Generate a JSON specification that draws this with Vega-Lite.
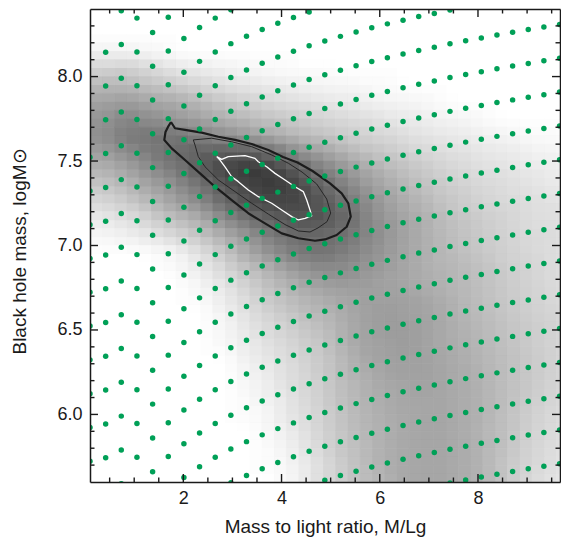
{
"$schema":"https://vega.github.io/schema/vega-lite/v6.json",
"width":470,"height":473,
"autosize":{"type":"none"},
"padding":{"left":90,"top":9,"right":1,"bottom":57},
"background":"white",
"config":{"view":{"stroke":null},"font":"Liberation Sans",
"axis":{"labelFont":"Liberation Sans","labelFontSize":18,"labelColor":"#1a1a1a","titleFont":"Liberation Sans","titleFontSize":19,"titleFontWeight":"normal","titleColor":"#1a1a1a","domainColor":"#1a1a1a","domainWidth":1.5,"grid":false}},
"datasets":{
"xt":[{"v":0.5,"k":"min"},{"v":1,"k":"min"},{"v":1.5,"k":"min"},{"v":2,"k":"maj"},{"v":2.5,"k":"min"},{"v":3,"k":"min"},{"v":3.5,"k":"min"},{"v":4,"k":"maj"},{"v":4.5,"k":"min"},{"v":5,"k":"min"},{"v":5.5,"k":"min"},{"v":6,"k":"maj"},{"v":6.5,"k":"min"},{"v":7,"k":"min"},{"v":7.5,"k":"min"},{"v":8,"k":"maj"},{"v":8.5,"k":"min"},{"v":9,"k":"min"},{"v":9.5,"k":"min"}],
"yt":[{"v":5.7,"k":"min"},{"v":5.8,"k":"min"},{"v":5.9,"k":"min"},{"v":6.0,"k":"maj"},{"v":6.1,"k":"min"},{"v":6.2,"k":"min"},{"v":6.3,"k":"min"},{"v":6.4,"k":"min"},{"v":6.5,"k":"maj"},{"v":6.6,"k":"min"},{"v":6.7,"k":"min"},{"v":6.8,"k":"min"},{"v":6.9,"k":"min"},{"v":7.0,"k":"maj"},{"v":7.1,"k":"min"},{"v":7.2,"k":"min"},{"v":7.3,"k":"min"},{"v":7.4,"k":"min"},{"v":7.5,"k":"maj"},{"v":7.6,"k":"min"},{"v":7.7,"k":"min"},{"v":7.8,"k":"min"},{"v":7.9,"k":"min"},{"v":8.0,"k":"maj"},{"v":8.1,"k":"min"},{"v":8.2,"k":"min"},{"v":8.3,"k":"min"}],
"xs":[{"key":"c0","x0":0.1,"x1":0.6},{"key":"c1","x0":0.6,"x1":1.1},{"key":"c2","x0":1.1,"x1":1.6},{"key":"c3","x0":1.6,"x1":2.1},{"key":"c4","x0":2.1,"x1":2.6},{"key":"c5","x0":2.6,"x1":3.1},{"key":"c6","x0":3.1,"x1":3.6},{"key":"c7","x0":3.6,"x1":4.1},{"key":"c8","x0":4.1,"x1":4.6},{"key":"c9","x0":4.6,"x1":5.1},{"key":"c10","x0":5.1,"x1":5.6},{"key":"c11","x0":5.6,"x1":6.1},{"key":"c12","x0":6.1,"x1":6.6},{"key":"c13","x0":6.6,"x1":7.1},{"key":"c14","x0":7.1,"x1":7.6},{"key":"c15","x0":7.6,"x1":8.1},{"key":"c16","x0":8.1,"x1":8.6},{"key":"c17","x0":8.6,"x1":9.1},{"key":"c18","x0":9.1,"x1":9.6},{"key":"c19","x0":9.6,"x1":10.1}],
"xb":[{"key":"b0","x0":-0.15,"x1":0.35},{"key":"b1","x0":0.35,"x1":0.85},{"key":"b2","x0":0.85,"x1":1.35},{"key":"b3","x0":1.35,"x1":1.85},{"key":"b4","x0":1.85,"x1":2.35},{"key":"b5","x0":2.35,"x1":2.85},{"key":"b6","x0":2.85,"x1":3.35},{"key":"b7","x0":3.35,"x1":3.85},{"key":"b8","x0":3.85,"x1":4.35},{"key":"b9","x0":4.35,"x1":4.85},{"key":"b10","x0":4.85,"x1":5.35},{"key":"b11","x0":5.35,"x1":5.85},{"key":"b12","x0":5.85,"x1":6.35},{"key":"b13","x0":6.35,"x1":6.85},{"key":"b14","x0":6.85,"x1":7.35},{"key":"b15","x0":7.35,"x1":7.85},{"key":"b16","x0":7.85,"x1":8.35},{"key":"b17","x0":8.35,"x1":8.85},{"key":"b18","x0":8.85,"x1":9.35},{"key":"b19","x0":9.35,"x1":9.85}],
"bg":[
{"y0":8.3,"y1":8.4,"c0":100,"c1":100,"c2":100,"c3":100,"c4":100,"c5":100,"c6":100,"c7":100,"c8":100,"c9":100,"c10":100,"c11":100,"c12":100,"c13":100,"c14":100,"c15":100,"c16":100,"c17":100,"c18":100,"c19":100},
{"y0":8.2,"y1":8.3,"c0":100,"c1":100,"c2":100,"c3":100,"c4":100,"c5":100,"c6":100,"c7":100,"c8":100,"c9":100,"c10":100,"c11":100,"c12":100,"c13":100,"c14":100,"c15":100,"c16":100,"c17":100,"c18":100,"c19":100},
{"y0":8.1,"y1":8.2,"c0":95,"c1":95,"c2":97,"c3":99,"c4":100,"c5":100,"c6":100,"c7":100,"c8":100,"c9":100,"c10":100,"c11":100,"c12":100,"c13":100,"c14":100,"c15":100,"c16":100,"c17":100,"c18":100,"c19":100},
{"y0":8.0,"y1":8.1,"c0":83,"c1":82,"c2":86,"c3":90,"c4":93,"c5":95,"c6":97,"c7":98,"c8":99,"c9":99,"c10":100,"c11":100,"c12":100,"c13":100,"c14":100,"c15":100,"c16":100,"c17":100,"c18":100,"c19":100},
{"y0":7.9,"y1":8.0,"c0":72,"c1":72,"c2":76,"c3":80,"c4":84,"c5":88,"c6":90,"c7":93,"c8":94,"c9":96,"c10":97,"c11":98,"c12":99,"c13":100,"c14":100,"c15":100,"c16":100,"c17":100,"c18":100,"c19":100},
{"y0":7.8,"y1":7.9,"c0":64,"c1":61,"c2":65,"c3":68,"c4":72,"c5":78,"c6":82,"c7":86,"c8":88,"c9":90,"c10":92,"c11":94,"c12":96,"c13":97,"c14":99,"c15":100,"c16":100,"c17":100,"c18":100,"c19":100},
{"y0":7.7,"y1":7.8,"c0":58,"c1":52,"c2":56,"c3":60,"c4":64,"c5":69,"c6":73,"c7":77,"c8":80,"c9":83,"c10":86,"c11":88,"c12":91,"c13":93,"c14":95,"c15":97,"c16":99,"c17":100,"c18":100,"c19":100},
{"y0":7.6,"y1":7.7,"c0":56,"c1":48,"c2":46,"c3":46,"c4":50,"c5":56,"c6":61,"c7":67,"c8":72,"c9":76,"c10":80,"c11":83,"c12":86,"c13":89,"c14":91,"c15":93,"c16":95,"c17":97,"c18":98,"c19":99},
{"y0":7.5,"y1":7.6,"c0":62,"c1":55,"c2":48,"c3":42,"c4":38,"c5":36,"c6":36,"c7":45,"c8":56,"c9":64,"c10":71,"c11":76,"c12":80,"c13":84,"c14":87,"c15":89,"c16":91,"c17":93,"c18":95,"c19":96},
{"y0":7.4,"y1":7.5,"c0":70,"c1":64,"c2":55,"c3":47,"c4":36,"c5":27,"c6":22,"c7":26,"c8":36,"c9":50,"c10":60,"c11":68,"c12":74,"c13":79,"c14":83,"c15":86,"c16":88,"c17":90,"c18":92,"c19":93},
{"y0":7.3,"y1":7.4,"c0":78,"c1":72,"c2":64,"c3":56,"c4":46,"c5":34,"c6":26,"c7":23,"c8":28,"c9":40,"c10":52,"c11":62,"c12":69,"c13":75,"c14":80,"c15":83,"c16":86,"c17":88,"c18":90,"c19":91},
{"y0":7.2,"y1":7.3,"c0":85,"c1":80,"c2":72,"c3":64,"c4":55,"c5":42,"c6":32,"c7":27,"c8":28,"c9":35,"c10":46,"c11":57,"c12":65,"c13":71,"c14":77,"c15":81,"c16":84,"c17":86,"c18":88,"c19":89},
{"y0":7.1,"y1":7.2,"c0":92,"c1":88,"c2":82,"c3":75,"c4":68,"c5":55,"c6":45,"c7":38,"c8":32,"c9":34,"c10":42,"c11":54,"c12":62,"c13":68,"c14":74,"c15":78,"c16":82,"c17":85,"c18":87,"c19":88},
{"y0":7.0,"y1":7.1,"c0":97,"c1":94,"c2":90,"c3":85,"c4":78,"c5":68,"c6":58,"c7":48,"c8":42,"c9":42,"c10":46,"c11":54,"c12":62,"c13":68,"c14":73,"c15":77,"c16":81,"c17":84,"c18":86,"c19":88},
{"y0":6.9,"y1":7.0,"c0":100,"c1":100,"c2":99,"c3":96,"c4":88,"c5":78,"c6":66,"c7":56,"c8":48,"c9":46,"c10":50,"c11":57,"c12":63,"c13":68,"c14":72,"c15":76,"c16":80,"c17":83,"c18":86,"c19":88},
{"y0":6.8,"y1":6.9,"c0":100,"c1":100,"c2":100,"c3":98,"c4":93,"c5":85,"c6":76,"c7":68,"c8":60,"c9":55,"c10":56,"c11":60,"c12":64,"c13":68,"c14":71,"c15":74,"c16":78,"c17":82,"c18":85,"c19":87},
{"y0":6.7,"y1":6.8,"c0":100,"c1":100,"c2":100,"c3":100,"c4":97,"c5":90,"c6":82,"c7":74,"c8":68,"c9":64,"c10":62,"c11":62,"c12":64,"c13":67,"c14":70,"c15":73,"c16":77,"c17":81,"c18":84,"c19":86},
{"y0":6.6,"y1":6.7,"c0":100,"c1":100,"c2":100,"c3":100,"c4":99,"c5":93,"c6":86,"c7":79,"c8":73,"c9":69,"c10":65,"c11":62,"c12":62,"c13":64,"c14":68,"c15":72,"c16":76,"c17":80,"c18":83,"c19":85},
{"y0":6.5,"y1":6.6,"c0":100,"c1":100,"c2":100,"c3":100,"c4":100,"c5":96,"c6":89,"c7":83,"c8":78,"c9":73,"c10":67,"c11":62,"c12":61,"c13":63,"c14":67,"c15":71,"c16":75,"c17":79,"c18":82,"c19":84},
{"y0":6.4,"y1":6.5,"c0":100,"c1":100,"c2":100,"c3":100,"c4":100,"c5":97,"c6":91,"c7":86,"c8":81,"c9":76,"c10":68,"c11":63,"c12":61,"c13":63,"c14":67,"c15":70,"c16":74,"c17":78,"c18":82,"c19":84},
{"y0":6.3,"y1":6.4,"c0":100,"c1":100,"c2":100,"c3":100,"c4":100,"c5":99,"c6":93,"c7":88,"c8":83,"c9":78,"c10":70,"c11":64,"c12":62,"c13":63,"c14":66,"c15":69,"c16":73,"c17":77,"c18":81,"c19":84},
{"y0":6.2,"y1":6.3,"c0":100,"c1":100,"c2":100,"c3":100,"c4":100,"c5":100,"c6":95,"c7":90,"c8":85,"c9":79,"c10":71,"c11":66,"c12":63,"c13":63,"c14":65,"c15":68,"c16":72,"c17":77,"c18":81,"c19":84},
{"y0":6.1,"y1":6.2,"c0":100,"c1":100,"c2":100,"c3":100,"c4":100,"c5":100,"c6":97,"c7":92,"c8":86,"c9":80,"c10":73,"c11":68,"c12":65,"c13":64,"c14":65,"c15":68,"c16":72,"c17":77,"c18":82,"c19":85},
{"y0":6.0,"y1":6.1,"c0":100,"c1":100,"c2":100,"c3":100,"c4":100,"c5":100,"c6":98,"c7":94,"c8":87,"c9":81,"c10":74,"c11":69,"c12":66,"c13":65,"c14":65,"c15":68,"c16":72,"c17":78,"c18":83,"c19":86},
{"y0":5.9,"y1":6.0,"c0":100,"c1":100,"c2":100,"c3":100,"c4":100,"c5":100,"c6":99,"c7":95,"c8":89,"c9":82,"c10":75,"c11":70,"c12":67,"c13":65,"c14":65,"c15":68,"c16":73,"c17":79,"c18":84,"c19":87},
{"y0":5.8,"y1":5.9,"c0":100,"c1":100,"c2":100,"c3":100,"c4":100,"c5":100,"c6":100,"c7":97,"c8":91,"c9":83,"c10":76,"c11":71,"c12":67,"c13":65,"c14":65,"c15":68,"c16":73,"c17":80,"c18":85,"c19":88},
{"y0":5.7,"y1":5.8,"c0":100,"c1":100,"c2":100,"c3":100,"c4":100,"c5":100,"c6":100,"c7":98,"c8":93,"c9":85,"c10":77,"c11":71,"c12":67,"c13":65,"c14":65,"c15":68,"c16":74,"c17":81,"c18":86,"c19":89},
{"y0":5.6,"y1":5.7,"c0":100,"c1":100,"c2":100,"c3":100,"c4":100,"c5":100,"c6":100,"c7":99,"c8":94,"c9":86,"c10":78,"c11":72,"c12":67,"c13":65,"c14":65,"c15":68,"c16":74,"c17":82,"c18":87,"c19":90}
],
"bg2":[
{"y0":8.15,"y1":8.25,"b0":98,"b1":98,"b2":98,"b3":99,"b4":100,"b5":100,"b6":100,"b7":100,"b8":100,"b9":100,"b10":100,"b11":100,"b12":100,"b13":100,"b14":100,"b15":100,"b16":100,"b17":100,"b18":100,"b19":100},
{"y0":8.05,"y1":8.15,"b0":89,"b1":89,"b2":90,"b3":93,"b4":96,"b5":97,"b6":98,"b7":99,"b8":99,"b9":100,"b10":100,"b11":100,"b12":100,"b13":100,"b14":100,"b15":100,"b16":100,"b17":100,"b18":100,"b19":100},
{"y0":7.95,"y1":8.05,"b0":78,"b1":77,"b2":79,"b3":83,"b4":87,"b5":90,"b6":93,"b7":95,"b8":96,"b9":97,"b10":98,"b11":99,"b12":99,"b13":100,"b14":100,"b15":100,"b16":100,"b17":100,"b18":100,"b19":100},
{"y0":7.85,"y1":7.95,"b0":68,"b1":67,"b2":69,"b3":72,"b4":76,"b5":81,"b6":85,"b7":88,"b8":90,"b9":92,"b10":94,"b11":95,"b12":97,"b13":98,"b14":99,"b15":100,"b16":100,"b17":100,"b18":100,"b19":100},
{"y0":7.75,"y1":7.85,"b0":61,"b1":59,"b2":59,"b3":62,"b4":66,"b5":71,"b6":76,"b7":80,"b8":83,"b9":85,"b10":88,"b11":90,"b12":92,"b13":94,"b14":96,"b15":98,"b16":99,"b17":100,"b18":100,"b19":100},
{"y0":7.65,"y1":7.75,"b0":57,"b1":54,"b2":51,"b3":52,"b4":55,"b5":60,"b6":65,"b7":70,"b8":74,"b9":78,"b10":81,"b11":84,"b12":87,"b13":90,"b14":92,"b15":94,"b16":96,"b17":98,"b18":99,"b19":99},
{"y0":7.55,"y1":7.65,"b0":59,"b1":55,"b2":49,"b3":46,"b4":44,"b5":45,"b6":47,"b7":52,"b8":60,"b9":67,"b10":73,"b11":78,"b12":81,"b13":85,"b14":88,"b15":90,"b16":92,"b17":94,"b18":96,"b19":97},
{"y0":7.45,"y1":7.55,"b0":66,"b1":63,"b2":56,"b3":48,"b4":41,"b5":34,"b6":30,"b7":32,"b8":41,"b9":52,"b10":61,"b11":69,"b12":75,"b13":79,"b14":83,"b15":86,"b16":89,"b17":91,"b18":93,"b19":94},
{"y0":7.35,"y1":7.45,"b0":74,"b1":71,"b2":64,"b3":56,"b4":46,"b5":36,"b6":27,"b7":24,"b8":28,"b9":39,"b10":51,"b11":61,"b12":68,"b13":74,"b14":79,"b15":83,"b16":86,"b17":88,"b18":90,"b19":92},
{"y0":7.25,"y1":7.35,"b0":82,"b1":79,"b2":72,"b3":64,"b4":55,"b5":44,"b6":34,"b7":27,"b8":27,"b9":33,"b10":43,"b11":54,"b12":63,"b13":70,"b14":76,"b15":80,"b16":84,"b17":86,"b18":88,"b19":90},
{"y0":7.15,"y1":7.25,"b0":89,"b1":86,"b2":81,"b3":73,"b4":66,"b5":55,"b6":44,"b7":36,"b8":31,"b9":32,"b10":39,"b11":50,"b12":60,"b13":67,"b14":73,"b15":78,"b16":81,"b17":84,"b18":87,"b19":88},
{"y0":7.05,"y1":7.15,"b0":95,"b1":93,"b2":89,"b3":83,"b4":77,"b5":67,"b6":57,"b7":47,"b8":40,"b9":38,"b10":41,"b11":49,"b12":58,"b13":65,"b14":71,"b15":76,"b16":80,"b17":83,"b18":86,"b19":87},
{"y0":6.95,"y1":7.05,"b0":99,"b1":98,"b2":96,"b3":93,"b4":87,"b5":78,"b6":68,"b7":57,"b8":49,"b9":45,"b10":46,"b11":52,"b12":59,"b13":65,"b14":70,"b15":75,"b16":79,"b17":82,"b18":85,"b19":87},
{"y0":6.85,"y1":6.95,"b0":100,"b1":100,"b2":100,"b3":98,"b4":94,"b5":86,"b6":76,"b7":67,"b8":58,"b9":52,"b10":52,"b11":56,"b12":61,"b13":66,"b14":70,"b15":73,"b16":77,"b17":81,"b18":84,"b19":87},
{"y0":6.75,"y1":6.85,"b0":100,"b1":100,"b2":100,"b3":100,"b4":97,"b5":91,"b6":83,"b7":75,"b8":68,"b9":62,"b10":59,"b11":60,"b12":63,"b13":66,"b14":69,"b15":72,"b16":76,"b17":80,"b18":83,"b19":86},
{"y0":6.65,"y1":6.75,"b0":100,"b1":100,"b2":100,"b3":100,"b4":99,"b5":95,"b6":88,"b7":80,"b8":74,"b9":69,"b10":65,"b11":63,"b12":63,"b13":64,"b14":67,"b15":71,"b16":75,"b17":79,"b18":82,"b19":85},
{"y0":6.55,"y1":6.65,"b0":100,"b1":100,"b2":100,"b3":100,"b4":100,"b5":97,"b6":91,"b7":84,"b8":78,"b9":73,"b10":69,"b11":64,"b12":62,"b13":63,"b14":66,"b15":70,"b16":74,"b17":78,"b18":81,"b19":84},
{"y0":6.45,"y1":6.55,"b0":100,"b1":100,"b2":100,"b3":100,"b4":100,"b5":98,"b6":93,"b7":87,"b8":82,"b9":77,"b10":71,"b11":65,"b12":62,"b13":62,"b14":65,"b15":69,"b16":73,"b17":77,"b18":80,"b19":83},
{"y0":6.35,"y1":6.45,"b0":100,"b1":100,"b2":100,"b3":100,"b4":100,"b5":99,"b6":95,"b7":90,"b8":85,"b9":80,"b10":73,"b11":66,"b12":63,"b13":62,"b14":65,"b15":68,"b16":72,"b17":76,"b18":80,"b19":83},
{"y0":6.25,"y1":6.35,"b0":100,"b1":100,"b2":100,"b3":100,"b4":100,"b5":100,"b6":97,"b7":92,"b8":87,"b9":81,"b10":75,"b11":68,"b12":64,"b13":63,"b14":64,"b15":67,"b16":71,"b17":75,"b18":79,"b19":83},
{"y0":6.15,"y1":6.25,"b0":100,"b1":100,"b2":100,"b3":100,"b4":100,"b5":100,"b6":98,"b7":94,"b8":88,"b9":83,"b10":76,"b11":70,"b12":66,"b13":64,"b14":64,"b15":67,"b16":70,"b17":75,"b18":79,"b19":83},
{"y0":6.05,"y1":6.15,"b0":100,"b1":100,"b2":100,"b3":100,"b4":100,"b5":100,"b6":99,"b7":95,"b8":90,"b9":84,"b10":77,"b11":71,"b12":67,"b13":65,"b14":65,"b15":67,"b16":70,"b17":75,"b18":80,"b19":84},
{"y0":5.95,"y1":6.05,"b0":100,"b1":100,"b2":100,"b3":100,"b4":100,"b5":100,"b6":99,"b7":97,"b8":91,"b9":85,"b10":78,"b11":72,"b12":68,"b13":66,"b14":65,"b15":67,"b16":70,"b17":76,"b18":81,"b19":85},
{"y0":5.85,"y1":5.95,"b0":100,"b1":100,"b2":100,"b3":100,"b4":100,"b5":100,"b6":100,"b7":98,"b8":93,"b9":86,"b10":79,"b11":73,"b12":69,"b13":66,"b14":65,"b15":67,"b16":71,"b17":76,"b18":82,"b19":86},
{"y0":5.75,"y1":5.85,"b0":100,"b1":100,"b2":100,"b3":100,"b4":100,"b5":100,"b6":100,"b7":99,"b8":95,"b9":88,"b10":80,"b11":74,"b12":69,"b13":66,"b14":65,"b15":67,"b16":71,"b17":77,"b18":83,"b19":87},
{"y0":5.65,"y1":5.75,"b0":100,"b1":100,"b2":100,"b3":100,"b4":100,"b5":100,"b6":100,"b7":99,"b8":96,"b9":90,"b10":82,"b11":75,"b12":69,"b13":66,"b14":65,"b15":67,"b16":71,"b17":78,"b18":84,"b19":88},
{"y0":5.55,"y1":5.65,"b0":100,"b1":100,"b2":100,"b3":100,"b4":100,"b5":100,"b6":100,"b7":100,"b8":97,"b9":90,"b10":82,"b11":75,"b12":70,"b13":66,"b14":65,"b15":67,"b16":71,"b17":78,"b18":85,"b19":89}
],
"outer":[{"o":1,"x":1.749,"y":7.731},{"o":2,"x":1.831,"y":7.694},{"o":3,"x":2.034,"y":7.684},{"o":4,"x":2.374,"y":7.668},{"o":5,"x":2.713,"y":7.644},{"o":6,"x":3.053,"y":7.625},{"o":7,"x":3.393,"y":7.601},{"o":8,"x":3.731,"y":7.565},{"o":9,"x":4.03,"y":7.524},{"o":10,"x":4.325,"y":7.491},{"o":11,"x":4.631,"y":7.441},{"o":12,"x":4.987,"y":7.368},{"o":13,"x":5.225,"y":7.309},{"o":14,"x":5.36,"y":7.25},{"o":15,"x":5.409,"y":7.171},{"o":16,"x":5.327,"y":7.111},{"o":17,"x":5.123,"y":7.062},{"o":18,"x":4.885,"y":7.036},{"o":19,"x":4.682,"y":7.028},{"o":20,"x":4.342,"y":7.043},{"o":21,"x":4.004,"y":7.072},{"o":22,"x":3.663,"y":7.131},{"o":23,"x":3.323,"y":7.191},{"o":24,"x":2.985,"y":7.269},{"o":25,"x":2.645,"y":7.348},{"o":26,"x":2.34,"y":7.427},{"o":27,"x":2.034,"y":7.506},{"o":28,"x":1.764,"y":7.575},{"o":29,"x":1.613,"y":7.625},{"o":30,"x":1.637,"y":7.672},{"o":31,"x":1.698,"y":7.707},{"o":32,"x":1.749,"y":7.731}],
"mid":[{"o":1,"x":2.203,"y":7.625},{"o":2,"x":2.578,"y":7.635},{"o":3,"x":2.985,"y":7.614},{"o":4,"x":3.393,"y":7.585},{"o":5,"x":3.8,"y":7.536},{"o":6,"x":4.138,"y":7.487},{"o":7,"x":4.417,"y":7.435},{"o":8,"x":4.716,"y":7.364},{"o":9,"x":4.92,"y":7.275},{"o":10,"x":5.001,"y":7.192},{"o":11,"x":4.926,"y":7.141},{"o":12,"x":4.743,"y":7.104},{"o":13,"x":4.58,"y":7.08},{"o":14,"x":4.342,"y":7.086},{"o":15,"x":4.071,"y":7.124},{"o":16,"x":3.731,"y":7.186},{"o":17,"x":3.393,"y":7.25},{"o":18,"x":3.053,"y":7.319},{"o":19,"x":2.713,"y":7.388},{"o":20,"x":2.442,"y":7.466},{"o":21,"x":2.305,"y":7.526},{"o":22,"x":2.238,"y":7.595},{"o":23,"x":2.203,"y":7.625}],
"inner":[{"o":1,"x":2.68,"y":7.526},{"o":2,"x":2.782,"y":7.51},{"o":3,"x":2.916,"y":7.526},{"o":4,"x":3.256,"y":7.532},{"o":5,"x":3.46,"y":7.516},{"o":6,"x":3.527,"y":7.496},{"o":7,"x":3.698,"y":7.466},{"o":8,"x":3.867,"y":7.427},{"o":9,"x":4.071,"y":7.388},{"o":10,"x":4.274,"y":7.348},{"o":11,"x":4.443,"y":7.319},{"o":12,"x":4.513,"y":7.269},{"o":13,"x":4.58,"y":7.21},{"o":14,"x":4.614,"y":7.175},{"o":15,"x":4.478,"y":7.161},{"o":16,"x":4.342,"y":7.151},{"o":17,"x":4.207,"y":7.171},{"o":18,"x":4.004,"y":7.21},{"o":19,"x":3.8,"y":7.25},{"o":20,"x":3.527,"y":7.289},{"o":21,"x":3.323,"y":7.329},{"o":22,"x":3.12,"y":7.378},{"o":23,"x":2.985,"y":7.407},{"o":24,"x":2.849,"y":7.466},{"o":25,"x":2.747,"y":7.506},{"o":26,"x":2.68,"y":7.526}],
"dots":[
{"x":0.1,"y":7.523},{"x":0.1,"y":7.323},{"x":0.1,"y":7.123},{"x":0.1,"y":6.923},{"x":0.1,"y":6.723},{"x":0.1,"y":6.523},{"x":0.1,"y":6.323},{"x":0.1,"y":6.123},{"x":0.1,"y":5.923},{"x":0.1,"y":5.723},
{"x":0.419,"y":8.144},{"x":0.419,"y":7.944},{"x":0.419,"y":7.744},{"x":0.419,"y":7.544},{"x":0.419,"y":7.344},{"x":0.419,"y":7.144},{"x":0.419,"y":6.944},{"x":0.419,"y":6.744},{"x":0.419,"y":6.544},{"x":0.419,"y":6.344},{"x":0.419,"y":6.144},{"x":0.419,"y":5.944},{"x":0.419,"y":5.744},
{"x":0.737,"y":8.39},{"x":0.737,"y":8.19},{"x":0.737,"y":7.99},{"x":0.737,"y":7.79},{"x":0.737,"y":7.59},{"x":0.737,"y":7.39},{"x":0.737,"y":7.19},{"x":0.737,"y":6.99},{"x":0.737,"y":6.79},{"x":0.737,"y":6.59},{"x":0.737,"y":6.39},{"x":0.737,"y":6.19},{"x":0.737,"y":5.99},{"x":0.737,"y":5.79},{"x":0.737,"y":5.59},
{"x":1.056,"y":8.346},{"x":1.056,"y":8.146},{"x":1.056,"y":7.946},{"x":1.056,"y":7.746},{"x":1.056,"y":7.546},{"x":1.056,"y":7.346},{"x":1.056,"y":7.146},{"x":1.056,"y":6.946},{"x":1.056,"y":6.746},{"x":1.056,"y":6.546},{"x":1.056,"y":6.346},{"x":1.056,"y":6.146},{"x":1.056,"y":5.946},{"x":1.056,"y":5.746},
{"x":1.375,"y":8.261},{"x":1.375,"y":8.061},{"x":1.375,"y":7.861},{"x":1.375,"y":7.661},{"x":1.375,"y":7.461},{"x":1.375,"y":7.261},{"x":1.375,"y":7.061},{"x":1.375,"y":6.861},{"x":1.375,"y":6.661},{"x":1.375,"y":6.461},{"x":1.375,"y":6.261},{"x":1.375,"y":6.061},{"x":1.375,"y":5.861},{"x":1.375,"y":5.661},
{"x":1.694,"y":8.351},{"x":1.694,"y":8.151},{"x":1.694,"y":7.951},{"x":1.694,"y":7.751},{"x":1.694,"y":7.551},{"x":1.694,"y":7.351},{"x":1.694,"y":7.151},{"x":1.694,"y":6.951},{"x":1.694,"y":6.751},{"x":1.694,"y":6.551},{"x":1.694,"y":6.351},{"x":1.694,"y":6.151},{"x":1.694,"y":5.951},{"x":1.694,"y":5.751},
{"x":2.012,"y":8.226},{"x":2.012,"y":8.026},{"x":2.012,"y":7.826},{"x":2.012,"y":7.626},{"x":2.012,"y":7.426},{"x":2.012,"y":7.226},{"x":2.012,"y":7.026},{"x":2.012,"y":6.826},{"x":2.012,"y":6.626},{"x":2.012,"y":6.426},{"x":2.012,"y":6.226},{"x":2.012,"y":6.026},{"x":2.012,"y":5.826},{"x":2.012,"y":5.626},
{"x":2.331,"y":8.29},{"x":2.331,"y":8.09},{"x":2.331,"y":7.89},{"x":2.331,"y":7.69},{"x":2.331,"y":7.49},{"x":2.331,"y":7.29},{"x":2.331,"y":7.09},{"x":2.331,"y":6.89},{"x":2.331,"y":6.69},{"x":2.331,"y":6.49},{"x":2.331,"y":6.29},{"x":2.331,"y":6.09},{"x":2.331,"y":5.89},{"x":2.331,"y":5.69},
{"x":2.65,"y":8.346},{"x":2.65,"y":8.146},{"x":2.65,"y":7.946},{"x":2.65,"y":7.746},{"x":2.65,"y":7.546},{"x":2.65,"y":7.346},{"x":2.65,"y":7.146},{"x":2.65,"y":6.946},{"x":2.65,"y":6.746},{"x":2.65,"y":6.546},{"x":2.65,"y":6.346},{"x":2.65,"y":6.146},{"x":2.65,"y":5.946},{"x":2.65,"y":5.746},
{"x":2.968,"y":8.395},{"x":2.968,"y":8.195},{"x":2.968,"y":7.995},{"x":2.968,"y":7.795},{"x":2.968,"y":7.595},{"x":2.968,"y":7.395},{"x":2.968,"y":7.195},{"x":2.968,"y":6.995},{"x":2.968,"y":6.795},{"x":2.968,"y":6.595},{"x":2.968,"y":6.395},{"x":2.968,"y":6.195},{"x":2.968,"y":5.995},{"x":2.968,"y":5.795},{"x":2.968,"y":5.595},
{"x":3.287,"y":8.239},{"x":3.287,"y":8.039},{"x":3.287,"y":7.839},{"x":3.287,"y":7.639},{"x":3.287,"y":7.439},{"x":3.287,"y":7.239},{"x":3.287,"y":7.039},{"x":3.287,"y":6.839},{"x":3.287,"y":6.639},{"x":3.287,"y":6.439},{"x":3.287,"y":6.239},{"x":3.287,"y":6.039},{"x":3.287,"y":5.839},{"x":3.287,"y":5.639},
{"x":3.606,"y":8.279},{"x":3.606,"y":8.079},{"x":3.606,"y":7.879},{"x":3.606,"y":7.679},{"x":3.606,"y":7.479},{"x":3.606,"y":7.279},{"x":3.606,"y":7.079},{"x":3.606,"y":6.879},{"x":3.606,"y":6.679},{"x":3.606,"y":6.479},{"x":3.606,"y":6.279},{"x":3.606,"y":6.079},{"x":3.606,"y":5.879},{"x":3.606,"y":5.679},
{"x":3.924,"y":8.316},{"x":3.924,"y":8.116},{"x":3.924,"y":7.916},{"x":3.924,"y":7.716},{"x":3.924,"y":7.516},{"x":3.924,"y":7.316},{"x":3.924,"y":7.116},{"x":3.924,"y":6.916},{"x":3.924,"y":6.716},{"x":3.924,"y":6.516},{"x":3.924,"y":6.316},{"x":3.924,"y":6.116},{"x":3.924,"y":5.916},{"x":3.924,"y":5.716},
{"x":4.243,"y":8.35},{"x":4.243,"y":8.15},{"x":4.243,"y":7.95},{"x":4.243,"y":7.75},{"x":4.243,"y":7.55},{"x":4.243,"y":7.35},{"x":4.243,"y":7.15},{"x":4.243,"y":6.95},{"x":4.243,"y":6.75},{"x":4.243,"y":6.55},{"x":4.243,"y":6.35},{"x":4.243,"y":6.15},{"x":4.243,"y":5.95},{"x":4.243,"y":5.75},
{"x":4.562,"y":8.382},{"x":4.562,"y":8.182},{"x":4.562,"y":7.982},{"x":4.562,"y":7.782},{"x":4.562,"y":7.582},{"x":4.562,"y":7.382},{"x":4.562,"y":7.182},{"x":4.562,"y":6.982},{"x":4.562,"y":6.782},{"x":4.562,"y":6.582},{"x":4.562,"y":6.382},{"x":4.562,"y":6.182},{"x":4.562,"y":5.982},{"x":4.562,"y":5.782},
{"x":4.881,"y":8.211},{"x":4.881,"y":8.011},{"x":4.881,"y":7.811},{"x":4.881,"y":7.611},{"x":4.881,"y":7.411},{"x":4.881,"y":7.211},{"x":4.881,"y":7.011},{"x":4.881,"y":6.811},{"x":4.881,"y":6.611},{"x":4.881,"y":6.411},{"x":4.881,"y":6.211},{"x":4.881,"y":6.011},{"x":4.881,"y":5.811},{"x":4.881,"y":5.611},
{"x":5.199,"y":8.238},{"x":5.199,"y":8.038},{"x":5.199,"y":7.838},{"x":5.199,"y":7.638},{"x":5.199,"y":7.438},{"x":5.199,"y":7.238},{"x":5.199,"y":7.038},{"x":5.199,"y":6.838},{"x":5.199,"y":6.638},{"x":5.199,"y":6.438},{"x":5.199,"y":6.238},{"x":5.199,"y":6.038},{"x":5.199,"y":5.838},{"x":5.199,"y":5.638},
{"x":5.518,"y":8.264},{"x":5.518,"y":8.064},{"x":5.518,"y":7.864},{"x":5.518,"y":7.664},{"x":5.518,"y":7.464},{"x":5.518,"y":7.264},{"x":5.518,"y":7.064},{"x":5.518,"y":6.864},{"x":5.518,"y":6.664},{"x":5.518,"y":6.464},{"x":5.518,"y":6.264},{"x":5.518,"y":6.064},{"x":5.518,"y":5.864},{"x":5.518,"y":5.664},
{"x":5.837,"y":8.289},{"x":5.837,"y":8.089},{"x":5.837,"y":7.889},{"x":5.837,"y":7.689},{"x":5.837,"y":7.489},{"x":5.837,"y":7.289},{"x":5.837,"y":7.089},{"x":5.837,"y":6.889},{"x":5.837,"y":6.689},{"x":5.837,"y":6.489},{"x":5.837,"y":6.289},{"x":5.837,"y":6.089},{"x":5.837,"y":5.889},{"x":5.837,"y":5.689},
{"x":6.155,"y":8.312},{"x":6.155,"y":8.112},{"x":6.155,"y":7.912},{"x":6.155,"y":7.712},{"x":6.155,"y":7.512},{"x":6.155,"y":7.312},{"x":6.155,"y":7.112},{"x":6.155,"y":6.912},{"x":6.155,"y":6.712},{"x":6.155,"y":6.512},{"x":6.155,"y":6.312},{"x":6.155,"y":6.112},{"x":6.155,"y":5.912},{"x":6.155,"y":5.712},
{"x":6.474,"y":8.334},{"x":6.474,"y":8.134},{"x":6.474,"y":7.934},{"x":6.474,"y":7.734},{"x":6.474,"y":7.534},{"x":6.474,"y":7.334},{"x":6.474,"y":7.134},{"x":6.474,"y":6.934},{"x":6.474,"y":6.734},{"x":6.474,"y":6.534},{"x":6.474,"y":6.334},{"x":6.474,"y":6.134},{"x":6.474,"y":5.934},{"x":6.474,"y":5.734},
{"x":6.793,"y":8.355},{"x":6.793,"y":8.155},{"x":6.793,"y":7.955},{"x":6.793,"y":7.755},{"x":6.793,"y":7.555},{"x":6.793,"y":7.355},{"x":6.793,"y":7.155},{"x":6.793,"y":6.955},{"x":6.793,"y":6.755},{"x":6.793,"y":6.555},{"x":6.793,"y":6.355},{"x":6.793,"y":6.155},{"x":6.793,"y":5.955},{"x":6.793,"y":5.755},
{"x":7.111,"y":8.374},{"x":7.111,"y":8.174},{"x":7.111,"y":7.974},{"x":7.111,"y":7.774},{"x":7.111,"y":7.574},{"x":7.111,"y":7.374},{"x":7.111,"y":7.174},{"x":7.111,"y":6.974},{"x":7.111,"y":6.774},{"x":7.111,"y":6.574},{"x":7.111,"y":6.374},{"x":7.111,"y":6.174},{"x":7.111,"y":5.974},{"x":7.111,"y":5.774},
{"x":7.43,"y":8.394},{"x":7.43,"y":8.194},{"x":7.43,"y":7.994},{"x":7.43,"y":7.794},{"x":7.43,"y":7.594},{"x":7.43,"y":7.394},{"x":7.43,"y":7.194},{"x":7.43,"y":6.994},{"x":7.43,"y":6.794},{"x":7.43,"y":6.594},{"x":7.43,"y":6.394},{"x":7.43,"y":6.194},{"x":7.43,"y":5.994},{"x":7.43,"y":5.794},{"x":7.43,"y":5.594},
{"x":7.749,"y":8.212},{"x":7.749,"y":8.012},{"x":7.749,"y":7.812},{"x":7.749,"y":7.612},{"x":7.749,"y":7.412},{"x":7.749,"y":7.212},{"x":7.749,"y":7.012},{"x":7.749,"y":6.812},{"x":7.749,"y":6.612},{"x":7.749,"y":6.412},{"x":7.749,"y":6.212},{"x":7.749,"y":6.012},{"x":7.749,"y":5.812},{"x":7.749,"y":5.612},
{"x":8.068,"y":8.229},{"x":8.068,"y":8.029},{"x":8.068,"y":7.829},{"x":8.068,"y":7.629},{"x":8.068,"y":7.429},{"x":8.068,"y":7.229},{"x":8.068,"y":7.029},{"x":8.068,"y":6.829},{"x":8.068,"y":6.629},{"x":8.068,"y":6.429},{"x":8.068,"y":6.229},{"x":8.068,"y":6.029},{"x":8.068,"y":5.829},{"x":8.068,"y":5.629},
{"x":8.386,"y":8.246},{"x":8.386,"y":8.046},{"x":8.386,"y":7.846},{"x":8.386,"y":7.646},{"x":8.386,"y":7.446},{"x":8.386,"y":7.246},{"x":8.386,"y":7.046},{"x":8.386,"y":6.846},{"x":8.386,"y":6.646},{"x":8.386,"y":6.446},{"x":8.386,"y":6.246},{"x":8.386,"y":6.046},{"x":8.386,"y":5.846},{"x":8.386,"y":5.646},
{"x":8.705,"y":8.262},{"x":8.705,"y":8.062},{"x":8.705,"y":7.862},{"x":8.705,"y":7.662},{"x":8.705,"y":7.462},{"x":8.705,"y":7.262},{"x":8.705,"y":7.062},{"x":8.705,"y":6.862},{"x":8.705,"y":6.662},{"x":8.705,"y":6.462},{"x":8.705,"y":6.262},{"x":8.705,"y":6.062},{"x":8.705,"y":5.862},{"x":8.705,"y":5.662},
{"x":9.024,"y":8.278},{"x":9.024,"y":8.078},{"x":9.024,"y":7.878},{"x":9.024,"y":7.678},{"x":9.024,"y":7.478},{"x":9.024,"y":7.278},{"x":9.024,"y":7.078},{"x":9.024,"y":6.878},{"x":9.024,"y":6.678},{"x":9.024,"y":6.478},{"x":9.024,"y":6.278},{"x":9.024,"y":6.078},{"x":9.024,"y":5.878},{"x":9.024,"y":5.678},
{"x":9.342,"y":8.293},{"x":9.342,"y":8.093},{"x":9.342,"y":7.893},{"x":9.342,"y":7.693},{"x":9.342,"y":7.493},{"x":9.342,"y":7.293},{"x":9.342,"y":7.093},{"x":9.342,"y":6.893},{"x":9.342,"y":6.693},{"x":9.342,"y":6.493},{"x":9.342,"y":6.293},{"x":9.342,"y":6.093},{"x":9.342,"y":5.893},{"x":9.342,"y":5.693},
{"x":9.661,"y":8.308},{"x":9.661,"y":8.108},{"x":9.661,"y":7.908},{"x":9.661,"y":7.708},{"x":9.661,"y":7.508},{"x":9.661,"y":7.308},{"x":9.661,"y":7.108},{"x":9.661,"y":6.908},{"x":9.661,"y":6.708},{"x":9.661,"y":6.508},{"x":9.661,"y":6.308},{"x":9.661,"y":6.108},{"x":9.661,"y":5.908},{"x":9.661,"y":5.708}
]
},
"layer":[
{"data":{"name":"bg"},
"transform":[{"fold":["c0","c1","c2","c3","c4","c5","c6","c7","c8","c9","c10","c11","c12","c13","c14","c15","c16","c17","c18","c19"],"as":["key","value"]},{"lookup":"key","from":{"data":{"name":"xs"},"key":"key","fields":["x0","x1"]}}],
"mark":{"type":"rect","clip":true,"strokeWidth":0.6},
"encoding":{
"x":{"field":"x0","type":"quantitative","scale":{"domain":[0.1,9.67],"nice":false,"zero":false},"axis":{"orient":"bottom","values":[2,4,6,8],"format":"d","ticks":false,"labelPadding":7,"title":"Mass to light ratio, M/Lg","titleY":50,"titleBaseline":"alphabetic","zindex":1}},
"x2":{"field":"x1"},
"y":{"field":"y0","type":"quantitative","scale":{"domain":[5.6,8.4],"nice":false,"zero":false},"axis":{"orient":"left","values":[6,6.5,7,7.5,8],"format":".1f","ticks":false,"labelPadding":8,"title":"Black hole mass, logM⊙","titleX":-65,"titleY":242,"titleBaseline":"alphabetic","titleAngle":-90,"zindex":1}},
"y2":{"field":"y1"},
"fill":{"field":"value","type":"quantitative","scale":{"domain":[0,100],"range":["#000000","#ffffff"],"interpolate":"rgb"},"legend":null},
"stroke":{"field":"value","type":"quantitative","scale":{"domain":[0,100],"range":["#000000","#ffffff"],"interpolate":"rgb"},"legend":null}
}},
{"data":{"name":"bg2"},
"transform":[{"fold":["b0","b1","b2","b3","b4","b5","b6","b7","b8","b9","b10","b11","b12","b13","b14","b15","b16","b17","b18","b19"],"as":["key","value"]},{"lookup":"key","from":{"data":{"name":"xb"},"key":"key","fields":["x0","x1"]}}],
"mark":{"type":"rect","clip":true,"fillOpacity":0.5,"strokeWidth":0},
"encoding":{
"x":{"field":"x0","type":"quantitative","scale":{"domain":[0.1,9.67],"nice":false,"zero":false},"axis":{"orient":"top","labels":false,"ticks":false,"domain":true,"title":null,"zindex":1}},
"x2":{"field":"x1"},
"y":{"field":"y0","type":"quantitative","scale":{"domain":[5.6,8.4],"nice":false,"zero":false},"axis":{"orient":"right","labels":false,"ticks":false,"domain":true,"title":null,"zindex":1}},
"y2":{"field":"y1"},
"fill":{"field":"value","type":"quantitative","scale":{"domain":[0,100],"range":["#000000","#ffffff"],"interpolate":"rgb"},"legend":null}
}},
{"data":{"name":"outer"},
"mark":{"type":"line","color":"#1c1c1c","strokeWidth":2.2,"strokeJoin":"round","clip":true},
"encoding":{
"x":{"field":"x","type":"quantitative","scale":{"domain":[0.1,9.67],"nice":false,"zero":false},"axis":null},
"y":{"field":"y","type":"quantitative","scale":{"domain":[5.6,8.4],"nice":false,"zero":false},"axis":null},
"order":{"field":"o","type":"quantitative"}
}},
{"data":{"name":"mid"},
"mark":{"type":"line","color":"#262626","strokeWidth":1,"strokeJoin":"round","clip":true},
"encoding":{
"x":{"field":"x","type":"quantitative","scale":{"domain":[0.1,9.67],"nice":false,"zero":false},"axis":null},
"y":{"field":"y","type":"quantitative","scale":{"domain":[5.6,8.4],"nice":false,"zero":false},"axis":null},
"order":{"field":"o","type":"quantitative"}
}},
{"data":{"name":"inner"},
"mark":{"type":"line","color":"#ffffff","strokeWidth":1.3,"strokeJoin":"round","clip":true},
"encoding":{
"x":{"field":"x","type":"quantitative","scale":{"domain":[0.1,9.67],"nice":false,"zero":false},"axis":null},
"y":{"field":"y","type":"quantitative","scale":{"domain":[5.6,8.4],"nice":false,"zero":false},"axis":null},
"order":{"field":"o","type":"quantitative"}
}},
{"data":{"name":"dots"},
"mark":{"type":"circle","size":30,"color":"#00a057","opacity":1,"clip":true},
"encoding":{
"x":{"field":"x","type":"quantitative","scale":{"domain":[0.1,9.67],"nice":false,"zero":false},"axis":null},
"y":{"field":"y","type":"quantitative","scale":{"domain":[5.6,8.4],"nice":false,"zero":false},"axis":null}
}},
{"data":{"name":"xt"},
"mark":{"type":"tick","orient":"vertical","thickness":1.4,"color":"#1a1a1a","opacity":1,"clip":true},
"encoding":{
"x":{"field":"v","type":"quantitative","scale":{"domain":[0.1,9.67],"nice":false,"zero":false},"axis":null},
"y":{"datum":5.6,"type":"quantitative","scale":{"domain":[5.6,8.4],"nice":false,"zero":false},"axis":null},
"size":{"field":"k","type":"nominal","scale":{"domain":["maj","min"],"range":[16,9]},"legend":null}
}},
{"data":{"name":"xt"},
"mark":{"type":"tick","orient":"vertical","thickness":1.4,"color":"#1a1a1a","opacity":1,"clip":true},
"encoding":{
"x":{"field":"v","type":"quantitative","scale":{"domain":[0.1,9.67],"nice":false,"zero":false},"axis":null},
"y":{"datum":8.4,"type":"quantitative","scale":{"domain":[5.6,8.4],"nice":false,"zero":false},"axis":null},
"size":{"field":"k","type":"nominal","scale":{"domain":["maj","min"],"range":[16,9]},"legend":null}
}},
{"data":{"name":"yt"},
"mark":{"type":"tick","orient":"horizontal","thickness":1.4,"color":"#1a1a1a","opacity":1,"clip":true},
"encoding":{
"y":{"field":"v","type":"quantitative","scale":{"domain":[5.6,8.4],"nice":false,"zero":false},"axis":null},
"x":{"datum":0.1,"type":"quantitative","scale":{"domain":[0.1,9.67],"nice":false,"zero":false},"axis":null},
"size":{"field":"k","type":"nominal","scale":{"domain":["maj","min"],"range":[16,9]},"legend":null}
}},
{"data":{"name":"yt"},
"mark":{"type":"tick","orient":"horizontal","thickness":1.4,"color":"#1a1a1a","opacity":1,"clip":true},
"encoding":{
"y":{"field":"v","type":"quantitative","scale":{"domain":[5.6,8.4],"nice":false,"zero":false},"axis":null},
"x":{"datum":9.67,"type":"quantitative","scale":{"domain":[0.1,9.67],"nice":false,"zero":false},"axis":null},
"size":{"field":"k","type":"nominal","scale":{"domain":["maj","min"],"range":[16,9]},"legend":null}
}}
],
"resolve":{"axis":{"x":"independent","y":"independent"}}
}
